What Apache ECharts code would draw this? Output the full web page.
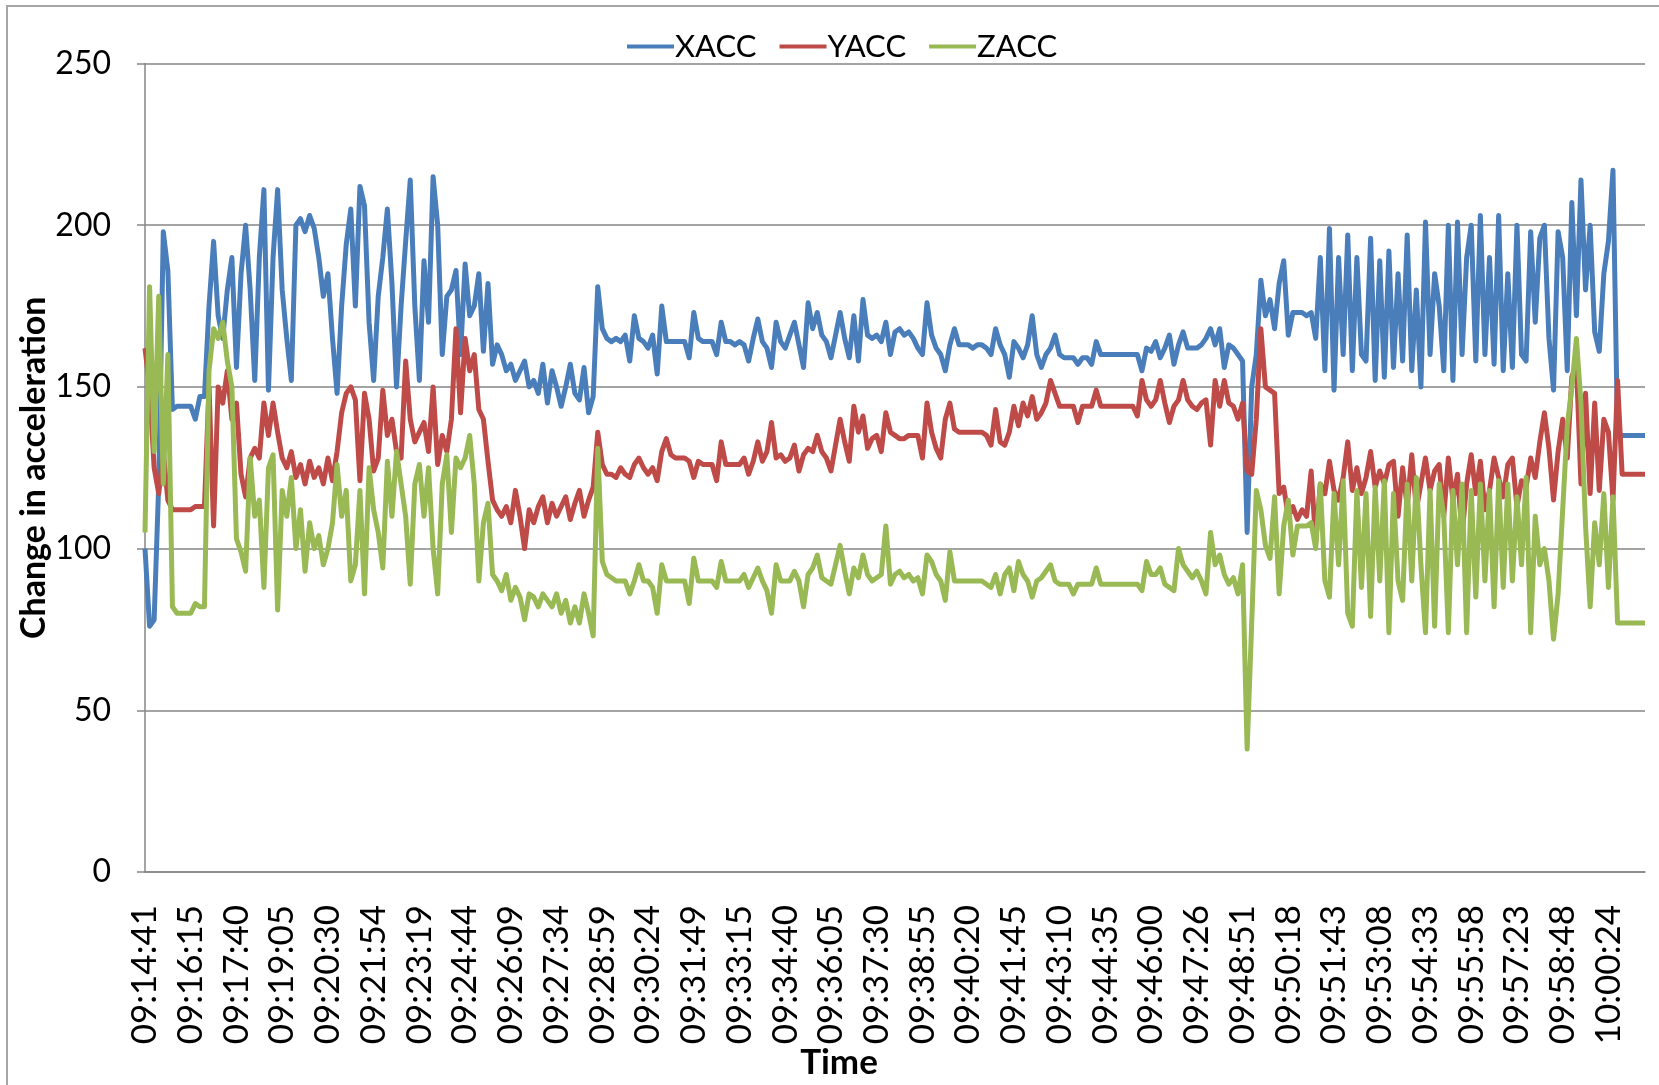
<!DOCTYPE html>
<html>
<head>
<meta charset="utf-8">
<script src="https://cdn.jsdelivr.net/npm/echarts@6/dist/echarts.min.js"></script>
<style>html,body{margin:0;padding:0;background:#fff;}#c{width:1659px;height:1085px;}</style>
</head>
<body>
<div id="c"></div>
<script>
const tickLabels = ['09:14:41','09:16:15','09:17:40','09:19:05','09:20:30','09:21:54','09:23:19','09:24:44','09:26:09','09:27:34','09:28:59','09:30:24','09:31:49','09:33:15','09:34:40','09:36:05','09:37:30','09:38:55','09:40:20','09:41:45','09:43:10','09:44:35','09:46:00','09:47:26','09:48:51','09:50:18','09:51:43','09:53:08','09:54:33','09:55:58','09:57:23','09:58:48','10:00:24'];
const samplesPerTick = 10;
const seriesNames = ['XACC','YACC','ZACC'];
const xacc = [
100,76,78,120,198,186,143,144,144,144,
144,140,147,147,175,195,172,165,180,190,
156,185,200,180,152,190,211,149,190,211,
180,165,152,200,202,198,203,199,190,178,
185,165,148,175,194,205,175,212,206,170,
152,178,190,205,182,150,175,195,214,175,
152,189,170,215,200,160,178,180,186,160,
188,172,175,185,161,182,157,163,160,155,
157,152,155,158,150,152,148,157,145,155,
150,144,150,157,148,146,156,142,147,181,
168,165,164,165,164,166,158,172,165,164,
162,166,154,175,164,164,164,164,164,159,
173,165,164,164,164,160,170,164,164,163,
164,163,158,165,171,164,162,156,170,164,
162,166,170,163,156,176,168,173,166,164,
159,166,173,165,159,172,158,177,166,165,
166,164,170,160,167,168,166,167,165,162,
160,176,166,162,160,155,163,168,163,163,
163,162,163,163,162,160,168,163,160,153,
164,162,159,163,172,160,156,160,162,166,
160,159,159,159,157,159,159,157,164,160,
160,160,160,160,160,160,160,160,155,162,
161,164,159,162,166,157,163,167,162,162,
162,163,165,168,163,168,156,163,162,160,
158,105,150,160,183,172,177,168,182,189,
166,173,173,173,172,173,165,190,155,199,
149,190,160,197,155,190,160,158,196,152,
189,153,192,156,185,158,197,155,180,150,
201,160,185,175,155,200,152,201,160,190,
200,158,203,160,190,157,203,155,185,156,
200,160,158,198,170,196,200,165,149,198,
190,155,207,172,214,180,200,167,161,185,
195,217,135,135,135,135,135,135,135];
const yacc = [
162,150,125,117,130,115,112,112,112,112,
112,113,113,113,150,107,150,145,155,140,
145,123,116,128,131,128,145,135,145,136,
128,125,130,122,126,120,127,122,125,120,
128,121,130,142,148,150,146,121,148,140,
124,128,149,135,140,130,128,158,140,133,
136,139,130,150,126,135,130,140,168,142,
165,155,160,143,140,127,115,112,110,113,
108,118,110,100,112,108,113,116,108,114,
110,113,116,109,114,118,110,115,119,136,
126,123,123,122,125,123,122,126,128,125,
123,125,121,130,134,129,128,128,128,127,
122,127,126,126,126,121,133,126,126,126,
126,128,123,127,133,127,130,139,128,129,
127,128,132,124,129,131,130,135,130,128,
124,132,140,133,127,144,136,141,131,134,
135,130,142,136,135,134,134,135,135,135,
128,145,136,131,128,140,145,137,136,136,
136,136,136,136,135,132,143,133,132,136,
144,138,145,141,147,140,142,145,152,148,
144,144,144,144,139,144,144,144,149,144,
144,144,144,144,144,144,144,141,152,146,
144,146,152,145,139,144,146,152,146,144,
143,145,146,132,152,144,152,145,144,140,
145,124,123,140,168,150,149,148,117,119,
110,113,109,112,110,124,102,120,117,127,
118,115,122,133,118,125,117,122,130,119,
124,120,126,127,110,125,113,129,112,120,
128,118,124,126,110,128,115,123,104,120,
129,117,127,112,118,128,122,116,126,128,
113,121,119,128,122,133,142,131,115,130,
140,128,153,157,120,148,117,145,118,140,
136,115,152,123,123,123,123,123,123];
const zacc = [
105,181,130,178,120,160,82,80,80,80,
80,83,82,82,155,168,165,170,158,150,
103,99,93,128,110,115,88,125,129,81,
118,110,122,100,112,93,108,100,104,95,
100,108,126,110,118,90,95,118,86,125,
112,105,94,127,110,130,120,110,89,120,
126,110,125,100,86,120,129,105,128,125,
128,135,120,90,108,114,92,90,87,92,
84,88,85,78,86,85,82,86,84,82,
86,80,84,77,82,77,86,80,73,131,
96,92,91,90,90,90,86,90,95,90,
90,88,80,95,90,90,90,90,90,83,
97,90,90,90,90,88,96,90,90,90,
90,92,88,91,94,90,87,80,95,90,
90,90,93,90,82,92,94,98,91,90,
89,95,101,93,86,94,91,98,92,90,
91,92,107,89,92,93,91,92,90,91,
86,98,96,92,90,84,99,90,90,90,
90,90,90,90,89,88,92,86,92,94,
87,96,92,90,85,90,91,93,95,90,
89,89,89,86,89,89,89,89,94,89,
89,89,89,89,89,89,89,89,87,96,
92,92,94,89,88,87,100,95,93,91,
93,90,86,105,95,98,92,89,91,86,
95,38,77,118,112,101,97,116,86,107,
115,98,107,107,107,108,100,120,90,85,
117,95,121,80,76,118,88,117,79,119,
90,121,74,117,90,84,120,90,122,95,
74,118,76,120,110,74,118,95,120,74,
118,85,120,90,118,82,121,88,120,90,
116,95,122,74,110,95,100,90,72,86,
112,138,150,165,145,107,82,108,95,117,
88,116,77,77,77,77,77,77,77];
const yTicks = {min: 0, max: 250, interval: 50};
const colors = ['#4A7EBB', '#BE4B48', '#98B954'];

const categories = [];
for (let i = 0; i < xacc.length; i++) {
  categories.push(i % samplesPerTick === 0 ? (tickLabels[i / samplesPerTick] || '') : '');
}
const FONT = 'Lato, "Open Sans", sans-serif';
const chart = echarts.init(document.getElementById('c'), null, {renderer: 'canvas'});
const values = [xacc, yacc, zacc];
chart.setOption({
  animation: false,
  backgroundColor: '#fff',
  color: colors,
  legend: {
    top: 26, left: 622,
    icon: 'rect', itemWidth: 47, itemHeight: 4, itemGap: 23,
    textStyle: {fontFamily: FONT, fontSize: 31, color: '#000', padding: [0, 0, 0, -4]},
    data: seriesNames
  },
  grid: {left: 145, right: 14, top: 63.5, bottom: 213, containLabel: false},
  xAxis: {
    type: 'category', boundaryGap: false, data: categories,
    axisLine: {lineStyle: {color: '#868686', width: 1.5}},
    axisTick: {show: false},
    axisLabel: {interval: 0, rotate: 90, margin: 33, fontFamily: FONT, fontSize: 35, color: '#000'},
    splitLine: {show: false}
  },
  yAxis: {
    type: 'value', min: yTicks.min, max: yTicks.max, interval: yTicks.interval,
    name: 'Change in acceleration', nameLocation: 'middle', nameRotate: 90, nameGap: 94,
    nameMoveOverlap: false,
    nameTextStyle: {fontFamily: FONT, fontSize: 34, fontWeight: 'bold', color: '#000'},
    axisLine: {show: true, lineStyle: {color: '#868686', width: 1.5}},
    axisTick: {show: true, length: 8, lineStyle: {color: '#868686', width: 1.5}},
    axisLabel: {margin: 34, fontFamily: FONT, fontSize: 32, color: '#000'},
    splitLine: {lineStyle: {color: '#868686', width: 1.5}}
  },
  graphic: [
    {type: 'polyline', shape: {points: [[7, 1085], [7, 6], [1659, 6]]}, style: {fill: 'none', stroke: '#a6a6a6', lineWidth: 2}, silent: true},
    {type: 'text', x: 839, y: 1063, style: {text: 'Time', fontFamily: FONT, fontSize: 35, fontWeight: 'bold', fill: '#000', align: 'center', verticalAlign: 'middle'}}
  ],
  series: seriesNames.map((n, k) => ({
    name: n, type: 'line', data: values[k], showSymbol: false, symbol: 'none',
    lineStyle: {width: 5, color: colors[k], join: 'round'}, itemStyle: {color: colors[k]},
    z: 2 + k
  }))
});
</script>
</body>
</html>
